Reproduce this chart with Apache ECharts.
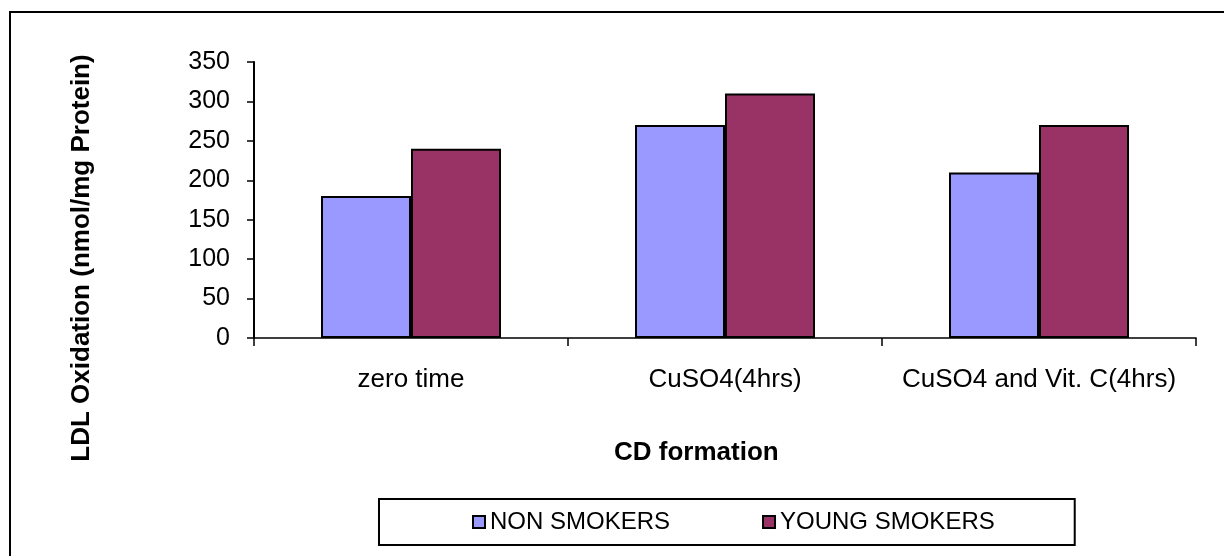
<!DOCTYPE html>
<html>
<head>
<meta charset="utf-8">
<title>LDL Oxidation - CD formation</title>
<script src="https://cdn.jsdelivr.net/npm/echarts@6/dist/echarts.min.js"></script>
<style>
    html, body { margin: 0; padding: 0; background: #fff; }
    #chart { width: 1224px; height: 556px; }
</style>
</head>
<body>
<div id="chart"></div>
<script>
// 类别
const categories = ['zero time', 'CuSO4(4hrs)', 'CuSO4 and Vit. C(4hrs)'];
// 系列数据
const nonSmokers = [180, 270, 210];
const youngSmokers = [240, 310, 270];
const seriesNames = ['NON SMOKERS', 'YOUNG SMOKERS'];

const font = '"Liberation Sans", Arial, sans-serif';

const chart = echarts.init(document.getElementById('chart'));

chart.setOption({
    animation: false,
    textStyle: {
        fontFamily: font,
        color: '#000'
    },
    grid: {
        left: 254,
        right: 28,
        top: 62,
        bottom: 218
    },
    title: {
        text: 'CD formation',
        left: 614,
        top: 440,
        padding: 0,
        textStyle: {
            fontFamily: font,
            fontSize: 26,
            fontWeight: 'bold',
            color: '#000'
        }
    },
    legend: {
        data: seriesNames,
        left: 379,
        top: 499,
        padding: [11, 80, 11, 93],
        itemGap: 92,
        itemWidth: 12,
        itemHeight: 12,
        icon: 'rect',
        borderColor: '#000',
        borderWidth: 2,
        textStyle: {
            fontFamily: font,
            fontSize: 24,
            color: '#000'
        }
    },
    // 外框和纵轴标题
    graphic: [
        {
            type: 'rect',
            shape: { x: 10, y: 12, width: 1400, height: 700 },
            style: { fill: 'none', stroke: '#000', lineWidth: 2 },
            silent: true
        },
        {
            type: 'text',
            x: 82,
            y: 258,
            rotation: Math.PI / 2,
            style: {
                text: 'LDL Oxidation (nmol/mg Protein)',
                font: 'bold 26px ' + font,
                fill: '#000',
                align: 'center',
                verticalAlign: 'middle'
            }
        }
    ],
    xAxis: {
        type: 'category',
        data: categories,
        axisLine: {
            lineStyle: { color: '#000', width: 1.5 }
        },
        axisTick: {
            show: true,
            interval: 0,
            length: 8,
            lineStyle: { color: '#000', width: 1.5 }
        },
        axisLabel: {
            interval: 0,
            hideOverlap: false,
            margin: 29,
            fontSize: 26,
            color: '#000',
            fontFamily: font
        },
        splitLine: { show: false }
    },
    yAxis: {
        type: 'value',
        min: 0,
        max: 350,
        interval: 50,
        axisLine: {
            show: true,
            lineStyle: { color: '#000', width: 2 }
        },
        axisTick: {
            show: true,
            length: 7,
            lineStyle: { color: '#000', width: 1.5 }
        },
        axisLabel: {
            margin: 24,
            fontSize: 25,
            color: '#000',
            fontFamily: font
        },
        splitLine: { show: false }
    },
    series: [
        {
            name: seriesNames[0],
            type: 'bar',
            data: nonSmokers,
            barWidth: 90,
            barGap: '0%',
            itemStyle: {
                color: '#9999FF',
                borderColor: '#000',
                borderWidth: 2
            }
        },
        {
            name: seriesNames[1],
            type: 'bar',
            data: youngSmokers,
            barWidth: 90,
            barGap: '0%',
            itemStyle: {
                color: '#993366',
                borderColor: '#000',
                borderWidth: 2
            }
        }
    ]
});
</script>
</body>
</html>
